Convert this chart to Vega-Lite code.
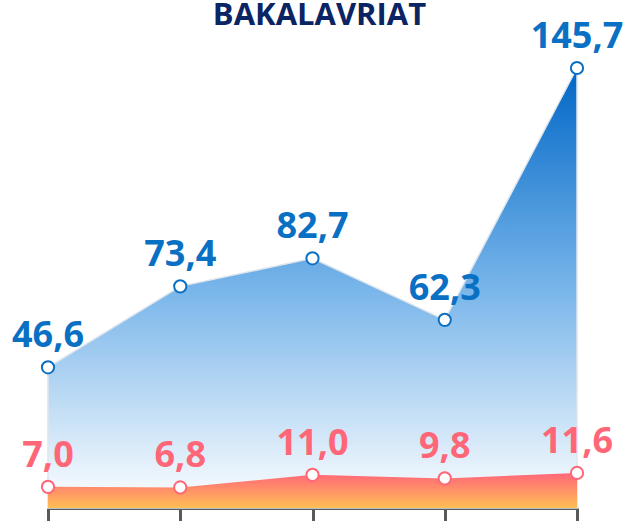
{
  "$schema": "https://vega.github.io/schema/vega-lite/v6.json",
  "width": 529,
  "height": 440,
  "autosize": {"type": "none"},
  "padding": {"left": 48, "top": 68, "right": 55, "bottom": 13},
  "background": "#ffffff",
  "title": {
    "text": "BAKALAVRIAT",
    "font": "Open Sans",
    "fontSize": 31,
    "fontWeight": "bold",
    "color": "#0b2463",
    "anchor": "middle",
    "baseline": "top",
    "offset": -13,
    "dx": 7
  },
  "data": {
    "values": [
      {"period": "1", "series": "Bakalavriat", "value": 46.6},
      {"period": "2", "series": "Bakalavriat", "value": 73.4},
      {"period": "3", "series": "Bakalavriat", "value": 82.7},
      {"period": "4", "series": "Bakalavriat", "value": 62.3},
      {"period": "5", "series": "Bakalavriat", "value": 145.7},
      {"period": "1", "series": "Other", "value": 7.0},
      {"period": "2", "series": "Other", "value": 6.8},
      {"period": "3", "series": "Other", "value": 11.0},
      {"period": "4", "series": "Other", "value": 9.8},
      {"period": "5", "series": "Other", "value": 11.6}
    ]
  },
  "encoding": {
    "x": {
      "field": "period",
      "type": "ordinal",
      "scale": {"type": "point", "padding": 0},
      "axis": {
        "title": null,
        "labels": false,
        "domainColor": "#595959",
        "domainWidth": 3,
        "tickColor": "#595959",
        "tickWidth": 3,
        "tickSize": 13,
        "grid": false
      }
    },
    "y": {
      "field": "value",
      "type": "quantitative",
      "scale": {"domain": [0, 145.7], "nice": false, "zero": true},
      "axis": null
    }
  },
  "layer": [
    {
      "transform": [{"filter": "datum.series === 'Bakalavriat'"}],
      "mark": {
        "type": "area",
        "stroke": "#dfe5ec",
        "strokeWidth": 1.5,
        "fill": {
          "gradient": "linear",
          "x1": 0, "y1": 0, "x2": 0, "y2": 1,
          "stops": [
            {"offset": 0, "color": "#0066c6"},
            {"offset": 0.5, "color": "#78b5ea"},
            {"offset": 1, "color": "#ffffff"}
          ]
        }
      }
    },
    {
      "transform": [{"filter": "datum.series === 'Other'"}],
      "mark": {
        "type": "area",
        "fill": {
          "gradient": "linear",
          "x1": 0, "y1": 0, "x2": 0, "y2": 1,
          "stops": [
            {"offset": 0, "color": "#ff6679"},
            {"offset": 1, "color": "#ffbe55"}
          ]
        }
      }
    },
    {
      "mark": {"type": "point", "shape": "circle", "filled": false, "fill": "#ffffff", "fillOpacity": 1, "strokeWidth": 2, "size": 150, "opacity": 1},
      "encoding": {
        "stroke": {
          "field": "series",
          "type": "nominal",
          "scale": {"domain": ["Bakalavriat", "Other"], "range": ["#0a70c4", "#ff6677"]},
          "legend": null
        }
      }
    },
    {
      "mark": {"type": "text", "font": "Open Sans", "fontSize": 36, "fontWeight": "bold", "baseline": "alphabetic", "align": "center", "dy": -20},
      "encoding": {
        "text": {"field": "value", "type": "quantitative", "format": ".1f"},
        "color": {
          "field": "series",
          "type": "nominal",
          "scale": {"domain": ["Bakalavriat", "Other"], "range": ["#0a70c4", "#ff6677"]},
          "legend": null
        }
      }
    }
  ],
  "config": {
    "view": {"stroke": null},
    "locale": {"number": {"decimal": ",", "thousands": " ", "grouping": [3], "currency": ["", ""]}}
  }
}
